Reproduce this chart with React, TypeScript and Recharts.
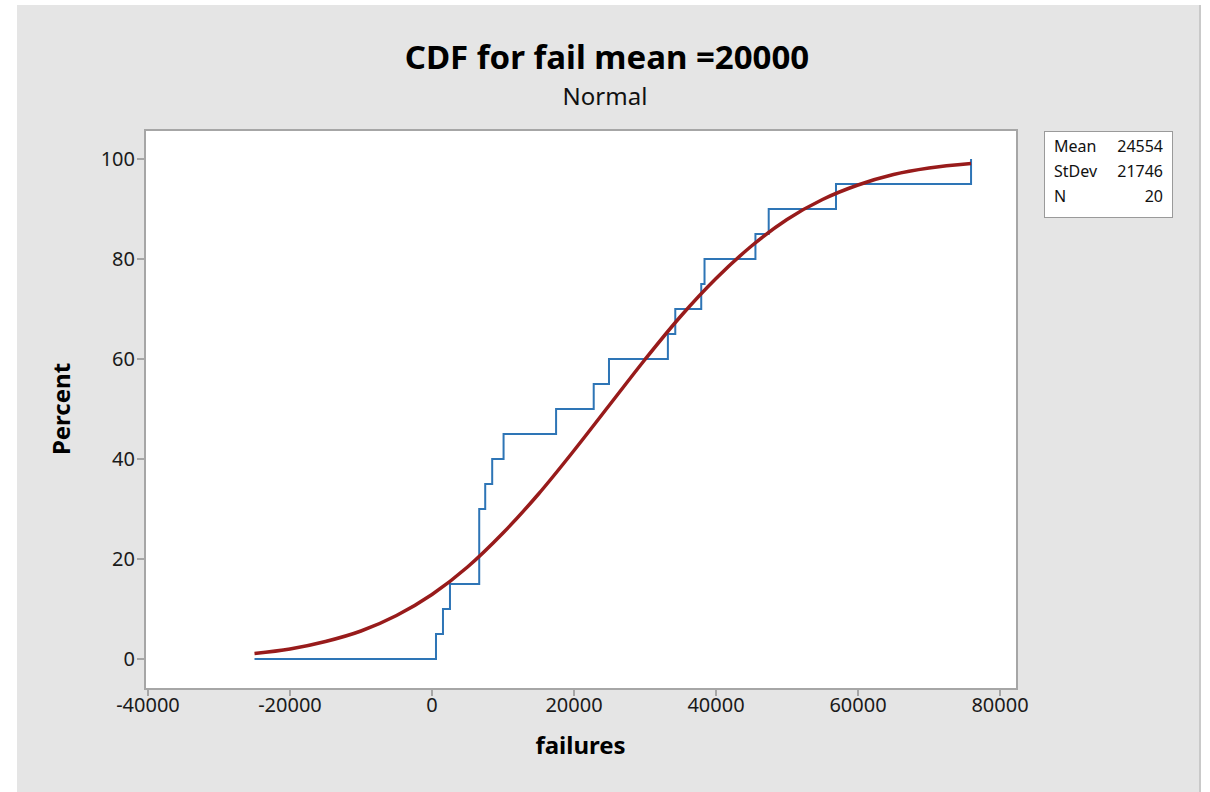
import React from "react";
import { LineChart, Line, XAxis, YAxis } from "recharts";

// sorted failure values
const failures = [
  562, 1546, 2531, 6650, 6650, 6650, 7494, 8478, 10080, 17476,
  22777, 24928, 33223, 34264, 37920, 38383, 45554, 47424, 56900, 75923,
];
const rangeStart = -25000;

// fitted normal CDF (percent)
const fitX = [
  -25000, -20000, -15000, -10000, -5000, 0, 5000, 10000, 15000, 20000, 25000,
  30000, 35000, 40000, 45000, 50000, 55000, 60000, 65000, 70000, 75923,
];
const fitPct = [
  1.1, 2.0, 3.5, 5.6, 8.7, 12.9, 18.4, 25.2, 33.0, 41.7, 50.8,
  59.9, 68.5, 76.1, 82.6, 87.9, 91.9, 94.8, 96.9, 98.2, 99.1,
];

const xTicks = [-40000, -20000, 0, 20000, 40000, 60000, 80000];
const yTicks = [0, 20, 40, 60, 80, 100];
const stats = [
  { label: "Mean", value: "24554" },
  { label: "StDev", value: "21746" },
  { label: "N", value: "20" },
];

const font = "'Noto Sans', 'Open Sans', sans-serif";

const stepData = [
  { x: rangeStart, p: 0 },
  ...failures.map((f, i) => ({ x: f, p: ((i + 1) / failures.length) * 100 })),
];
const fitData = fitX.map((x, i) => ({ x, p: fitPct[i] }));

export default function App() {
  return (
    <div style={{ position: "absolute", left: 0, top: 0, width: 1210, height: 792, background: "#fff", fontFamily: font }}>
      <div style={{ position: "absolute", left: 17, top: 5, width: 1182, height: 787, background: "#e5e5e5", borderRight: "2px solid #c9c9c9" }} />
      {/* plot frame */}
      <div style={{ position: "absolute", left: 144, top: 129, width: 870, height: 557, background: "#fff", border: "2px solid #a6a6a6" }} />
      <div style={{ position: "absolute", left: 0, top: 34, width: 1214, textAlign: "center", fontSize: 33, fontWeight: 700, color: "#000" }}>
        CDF for fail mean =20000
      </div>
      <div style={{ position: "absolute", left: 0, top: 79, width: 1210, textAlign: "center", fontSize: 24, color: "#111" }}>
        Normal
      </div>
      <div style={{ position: "absolute", left: 1044, top: 131, width: 127, height: 85, background: "#fff", border: "1px solid #9a9a9a", fontSize: 16, color: "#111" }}>
        {stats.map((s) => (
          <div key={s.label} style={{ display: "flex", justifyContent: "space-between", padding: "0 9px 0 9px", height: 25, lineHeight: "25px", marginTop: s.label === "Mean" ? 2 : 0 }}>
            <span>{s.label}</span>
            <span>{s.value}</span>
          </div>
        ))}
      </div>
      <div style={{ position: "absolute", left: 0, top: 0 }}>
        <LineChart width={1210} height={792} margin={{ top: 130, right: 194, bottom: 64, left: 85 }}>
          <XAxis
            dataKey="x"
            type="number"
            domain={[-40423, 82254]}
            ticks={xTicks}
            allowDataOverflow
            axisLine={false}
            tickLine={{ stroke: "#a6a6a6", strokeWidth: 2 }}
            tickSize={8}
            tick={{ fill: "#1a1a1a", fontSize: 20, fontFamily: font }}
            height={40}
            label={{ value: "failures", position: "insideBottom", offset: -26, fill: "#000", fontSize: 24, fontWeight: 700, fontFamily: font }}
          />
          <YAxis
            dataKey="p"
            type="number"
            domain={[-5.8, 105.8]}
            ticks={yTicks}
            allowDataOverflow
            axisLine={false}
            tickLine={{ stroke: "#a6a6a6", strokeWidth: 2 }}
            tickSize={8}
            tick={{ fill: "#1a1a1a", fontSize: 20, fontFamily: font }}
            width={60}
            label={{ value: "Percent", angle: -90, position: "insideLeft", offset: -24, fill: "#000", fontSize: 24, fontWeight: 700, fontFamily: font, style: { textAnchor: "middle" } }}
          />
          <Line
            data={stepData}
            dataKey="p"
            type="stepAfter"
            stroke="#2e75b6"
            strokeWidth={2}
            dot={false}
            isAnimationActive={false}
          />
          <Line
            data={fitData}
            dataKey="p"
            type="monotone"
            stroke="#981b1b"
            strokeWidth={3.5}
            dot={false}
            isAnimationActive={false}
          />
        </LineChart>
      </div>
    </div>
  );
}
